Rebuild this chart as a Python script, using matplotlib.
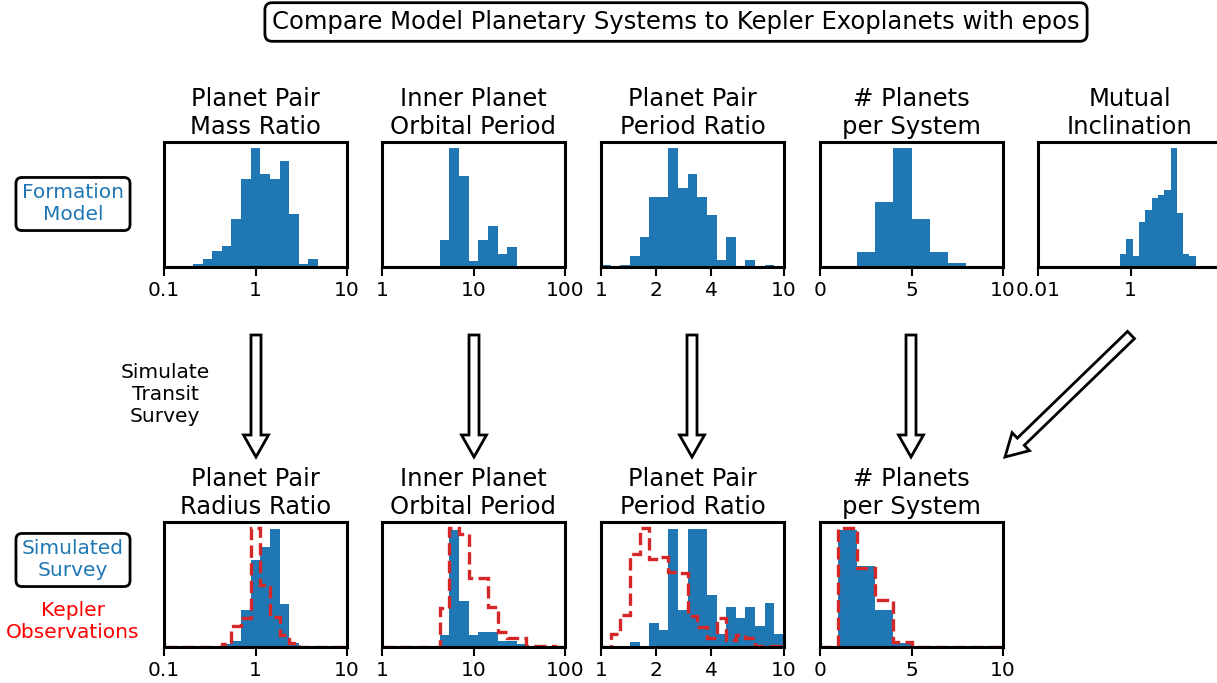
import numpy as np
import matplotlib.pyplot as plt
from matplotlib.patches import FancyArrow
from matplotlib.ticker import NullLocator

# bin edges of the histograms
mass_bins = np.logspace(-1, 1, 20)
period_bins = np.logspace(0, 2, 20)
ratio_bins = np.logspace(0, 1, 20)
npl_bins = np.arange(0, 11)
inc_bins = np.logspace(-2, np.log10(90), 30)

# formation model (top row)
mass_ratio = [0, 0, 0, 8, 24, 48, 63, 144, 265, 357, 278, 265, 318, 158, 8, 24, 0, 0, 0]
inner_period = [0, 0, 0, 0, 0, 0, 81, 357, 273, 17, 81, 124, 39, 60, 0, 0, 0, 0, 0]
period_ratio = [7, 0, 7, 34, 89, 209, 209, 355, 236, 276, 209, 156, 22, 89, 0, 22, 0, 7, 0]
n_planets = [0, 0, 44, 194, 357, 144, 44, 12, 0, 0]
mutual_inc = [0] * 13 + [40, 85, 32, 136, 171, 207, 216, 232, 357, 163, 40, 32] + [0] * 4

# simulated survey (bottom row)
sim_radius = [0, 0, 0, 0, 0, 0, 8, 18, 111, 264, 302, 356, 129, 12, 0, 0, 0, 0, 0]
sim_period = [0, 0, 0, 0, 0, 0, 35, 354, 138, 35, 44, 44, 19, 19, 9, 0, 0, 0, 0]
sim_ratio = [0, 0, 0, 16, 0, 73, 51, 355, 110, 355, 355, 155, 40, 121, 86, 121, 63, 132, 40]
sim_npl = [0, 354, 245, 112, 12, 0, 0, 0, 0, 0]

# kepler observations (bottom row, dashed)
kep_radius = [0, 0, 0, 0, 0, 0, 8, 62, 87, 360, 187, 92, 37, 12, 0, 0, 0, 0, 0]
kep_period = [0, 0, 0, 0, 0, 0, 117, 360, 343, 209, 209, 122, 46, 26, 26, 4, 4, 4, 0]
kep_ratio = [0, 40, 95, 280, 358, 265, 270, 227, 223, 92, 60, 27, 87, 20, 37, 28, 2, 2, 2]
kep_npl = [0, 360, 239, 142, 14, 0, 0, 0, 0, 0]

W, H = 1217, 683
fig = plt.figure(figsize=(W / 100, H / 100), dpi=100)

lefts = [164, 382, 601, 820, 1038]
aw, ah = 183, 125


def make_ax(col, top):
    return fig.add_axes([lefts[col] / W, 1 - (top + ah) / H, aw / W, ah / H])


def style(ax, scale, lim, ticks, labels, title):
    ax.set_xscale(scale)
    ax.set_xlim(lim)
    ax.set_xticks(ticks)
    ax.set_xticklabels(labels)
    ax.xaxis.set_minor_locator(NullLocator())
    ax.set_yticks([])
    for s in ax.spines.values():
        s.set_linewidth(2.2)
    ax.tick_params(axis='x', length=6.5, width=1.5, labelsize=14.5)
    ax.set_title(title, fontsize=17.5)


def bars(ax, bins, vals):
    ax.hist(bins[:-1], bins=bins, weights=vals, color='#1f77b4')


def dashed(ax, bins, vals):
    ax.hist(bins[:-1], bins=bins, weights=vals, histtype='step',
            color='#d62728', ls='--', lw=2.4)


top_specs = [
    (mass_bins, mass_ratio, 'log', (0.1, 10), [0.1, 1, 10], ['0.1', '1', '10'], 'Planet Pair\nMass Ratio'),
    (period_bins, inner_period, 'log', (1, 100), [1, 10, 100], ['1', '10', '100'], 'Inner Planet\nOrbital Period'),
    (ratio_bins, period_ratio, 'log', (1, 10), [1, 2, 4, 10], ['1', '2', '4', '10'], 'Planet Pair\nPeriod Ratio'),
    (npl_bins, n_planets, 'linear', (0, 10), [0, 5, 10], ['0', '5', '10'], '# Planets\nper System'),
    (inc_bins, mutual_inc, 'log', (0.01, 90), [0.01, 1], ['0.01', '1'], 'Mutual\nInclination'),
]
for i, (b, v, sc, lim, t, tl, title) in enumerate(top_specs):
    ax = make_ax(i, 142)
    bars(ax, b, v)
    style(ax, sc, lim, t, tl, title)

bot_specs = [
    (mass_bins, sim_radius, kep_radius, 'log', (0.1, 10), [0.1, 1, 10], ['0.1', '1', '10'], 'Planet Pair\nRadius Ratio'),
    (period_bins, sim_period, kep_period, 'log', (1, 100), [1, 10, 100], ['1', '10', '100'], 'Inner Planet\nOrbital Period'),
    (ratio_bins, sim_ratio, kep_ratio, 'log', (1, 10), [1, 2, 4, 10], ['1', '2', '4', '10'], 'Planet Pair\nPeriod Ratio'),
    (npl_bins, sim_npl, kep_npl, 'linear', (0, 10), [0, 5, 10], ['0', '5', '10'], '# Planets\nper System'),
]
for i, (b, v, k, sc, lim, t, tl, title) in enumerate(bot_specs):
    ax = make_ax(i, 522)
    bars(ax, b, v)
    dashed(ax, b, k)
    style(ax, sc, lim, t, tl, title)

# overlay in pixel units for the arrows and labels
ov = fig.add_axes([0, 0, 1, 1])
ov.set_xlim(0, W)
ov.set_ylim(H, 0)
ov.axis('off')
ov.patch.set_alpha(0)

box = dict(boxstyle='round,pad=0.3', fc='white', ec='black', lw=2)
ov.text(676, 22, 'Compare Model Planetary Systems to Kepler Exoplanets with epos',
        fontsize=17.5, ha='center', va='center', bbox=box)
ov.text(73, 204, 'Formation\nModel', fontsize=14.5, color='#1f77b4',
        ha='center', va='center', bbox=box)
ov.text(73, 560, 'Simulated\nSurvey', fontsize=14.5, color='#1f77b4',
        ha='center', va='center', bbox=box)
ov.text(73, 622, 'Kepler\nObservations', fontsize=14.5, color='red',
        ha='center', va='center')
ov.text(165, 394, 'Simulate\nTransit\nSurvey', fontsize=14.5, ha='center', va='center')

arrow_kw = dict(width=10, head_width=25, head_length=22, length_includes_head=True,
                fc='white', ec='black', lw=2)
for x in [256, 474, 692, 911]:
    ov.add_patch(FancyArrow(x, 335, 0, 122, **arrow_kw))
ov.add_patch(FancyArrow(1131, 335, -126, 122, **arrow_kw))

fig.savefig('out.png', dpi=100)
